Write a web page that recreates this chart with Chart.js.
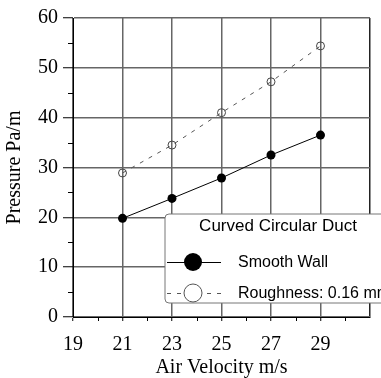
<!DOCTYPE html>
<html>
<head>
<meta charset="utf-8">
<script src="https://cdn.jsdelivr.net/npm/chart.js@4.4.1/dist/chart.umd.min.js"></script>
<style>
  html, body { margin: 0; padding: 0; background: #fff; }
  #wrap { width: 381px; height: 378px; }
</style>
</head>
<body>
<div id="wrap"><canvas id="grafico" width="381" height="378"></canvas></div>
<script>
// Dados do gráfico
const velocidades = [21, 23, 25, 27, 29];
const paredeLisa = [19.8, 23.8, 27.9, 32.5, 36.5];
const rugosidade = [28.9, 34.5, 41.0, 47.2, 54.4];
const nomesSeries = ['Smooth Wall', 'Roughness: 0.16 mm'];
const tituloLegenda = 'Curved Circular Duct';
const xMenorTicks = [20, 22, 24, 26, 28, 30];
const yMenorTicks = [5, 15, 25, 35, 45, 55];

const serif = '"Liberation Serif", "Times New Roman", serif';
const sans = '"Liberation Sans", Arial, sans-serif';

// ticks menores (o Chart.js não tem ticks menores)
const menorTicksPlugin = {
    id: 'menorTicks',
    afterDraw(chart) {
        const ctx = chart.ctx;
        const sx = chart.scales.x, sy = chart.scales.y;
        const area = chart.chartArea;
        ctx.save();
        ctx.strokeStyle = '#000';
        ctx.lineWidth = 1;
        ctx.beginPath();
        xMenorTicks.forEach(v => {
            const px = Math.round(sx.getPixelForValue(v)) + 0.5;
            ctx.moveTo(px, area.bottom);
            ctx.lineTo(px, area.bottom + 4);
        });
        yMenorTicks.forEach(v => {
            const py = Math.round(sy.getPixelForValue(v)) + 0.5;
            ctx.moveTo(area.left - 5, py);
            ctx.lineTo(area.left, py);
        });
        ctx.stroke();
        ctx.restore();
    }
};

// legenda desenhada à mão, como no original
const legendaPlugin = {
    id: 'legendaCaixa',
    afterDraw(chart) {
        const ctx = chart.ctx;
        const x0 = 165, y0 = 214, x1 = 395, y1 = 303, r = 4;
        ctx.save();
        ctx.beginPath();
        ctx.moveTo(x0 + r, y0);
        ctx.lineTo(x1, y0);
        ctx.lineTo(x1, y1);
        ctx.lineTo(x0 + r, y1);
        ctx.arcTo(x0, y1, x0, y1 - r, r);
        ctx.lineTo(x0, y0 + r);
        ctx.arcTo(x0, y0, x0 + r, y0, r);
        ctx.closePath();
        ctx.fillStyle = '#fff';
        ctx.fill();
        ctx.strokeStyle = '#777';
        ctx.lineWidth = 1;
        ctx.stroke();

        ctx.fillStyle = '#000';
        ctx.textBaseline = 'middle';
        ctx.textAlign = 'center';
        ctx.font = '17px ' + sans;
        ctx.fillText(tituloLegenda, 278, 226);

        ctx.textAlign = 'left';
        ctx.font = '16px ' + sans;
        ctx.fillText(nomesSeries[0], 238, 263);
        ctx.fillText(nomesSeries[1], 238, 294);

        // marcador parede lisa
        ctx.strokeStyle = '#000';
        ctx.beginPath();
        ctx.moveTo(167, 262.5);
        ctx.lineTo(221, 262.5);
        ctx.stroke();
        ctx.beginPath();
        ctx.arc(193, 262, 9, 0, Math.PI * 2);
        ctx.fillStyle = '#000';
        ctx.fill();

        // marcador rugosidade
        ctx.strokeStyle = '#555';
        ctx.setLineDash([4, 6]);
        ctx.beginPath();
        ctx.moveTo(167, 293.5);
        ctx.lineTo(221, 293.5);
        ctx.stroke();
        ctx.setLineDash([]);
        ctx.beginPath();
        ctx.arc(193, 293, 9, 0, Math.PI * 2);
        ctx.fillStyle = '#fff';
        ctx.fill();
        ctx.stroke();
        ctx.restore();
    }
};

const ctx = document.getElementById('grafico').getContext('2d');
const grafico = new Chart(ctx, {
    type: 'line',
    data: {
        labels: velocidades,
        datasets: [
            {
                label: nomesSeries[0],
                data: velocidades.map((v, i) => ({ x: v, y: paredeLisa[i] })),
                borderColor: '#000',
                borderWidth: 1,
                pointRadius: 4.5,
                pointBackgroundColor: '#000',
                pointBorderColor: '#000',
                pointBorderWidth: 0,
                tension: 0
            },
            {
                label: nomesSeries[1],
                data: velocidades.map((v, i) => ({ x: v, y: rugosidade[i] })),
                borderColor: '#555',
                borderWidth: 1,
                borderDash: [4, 6],
                pointRadius: 4,
                pointBackgroundColor: 'rgba(0,0,0,0)',
                pointBorderColor: '#444',
                pointBorderWidth: 1,
                tension: 0
            }
        ]
    },
    options: {
        responsive: false,
        animation: false,
        devicePixelRatio: 1,
        layout: { padding: { left: 0, right: 11, top: 18, bottom: 0 } },
        plugins: {
            legend: { display: false },
            tooltip: { enabled: false }
        },
        scales: {
            x: {
                type: 'linear',
                min: 19,
                max: 31,
                afterFit(scale) {
                    scale.height = 61;
                    scale.paddingLeft = 0;
                    scale.paddingRight = 0;
                },
                ticks: {
                    stepSize: 2,
                    color: '#000',
                    padding: 12,
                    maxRotation: 0,
                    font: { family: serif, size: 20 },
                    callback: v => (v >= 31 ? '' : v)
                },
                grid: {
                    color: c => (c.tick && c.tick.value === 31 ? '#222' : '#666'),
                    lineWidth: 1.5,
                    tickLength: 4,
                    tickColor: c => (c.tick && c.tick.value === 31 ? 'rgba(0,0,0,0)' : '#000'),
                    tickWidth: 1
                },
                border: { color: '#000', width: 1 },
                title: {
                    display: true,
                    text: 'Air Velocity m/s',
                    color: '#000',
                    padding: { top: 0, bottom: 0 },
                    font: { family: serif, size: 20, lineHeight: 1.0 }
                }
            },
            y: {
                min: 0,
                max: 60,
                afterFit(scale) { scale.width = 73; },
                ticks: {
                    stepSize: 10,
                    color: '#000',
                    padding: 5,
                    font: { family: serif, size: 20 }
                },
                grid: {
                    color: '#666',
                    lineWidth: 1.5,
                    tickLength: 10,
                    tickColor: '#000',
                    tickWidth: 1
                },
                border: { color: '#000', width: 1 },
                title: {
                    display: true,
                    text: 'Pressure Pa/m',
                    color: '#000',
                    padding: { top: 3, bottom: 0 },
                    font: { family: serif, size: 20 }
                }
            }
        }
    },
    plugins: [menorTicksPlugin, legendaPlugin]
});
</script>
</body>
</html>
